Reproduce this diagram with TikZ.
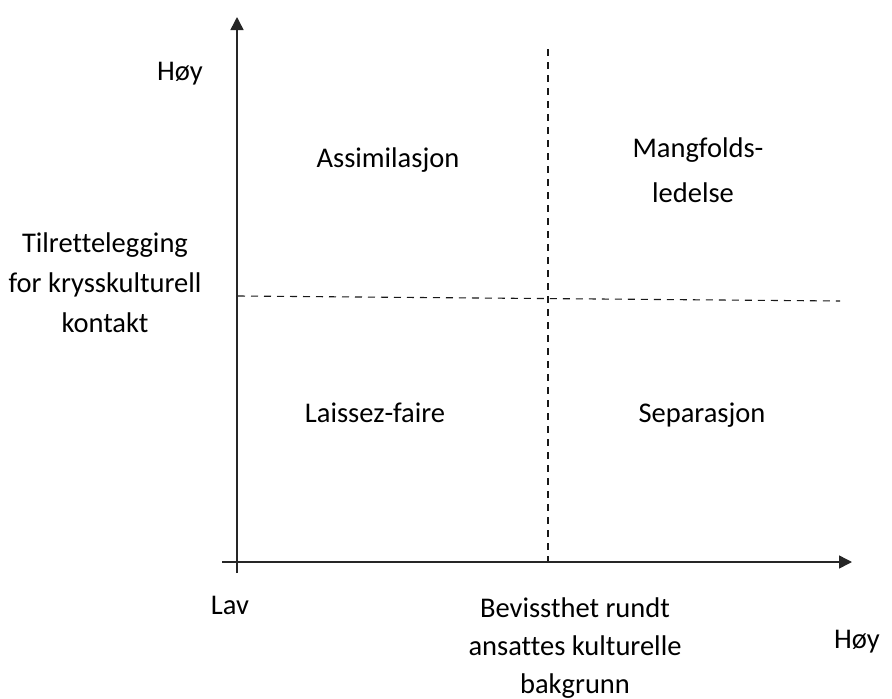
\documentclass[tikz,border=0pt]{standalone}
\usepackage{fontspec}
\setmainfont{Carlito}[Ligatures=NoCommon]
\usetikzlibrary{arrows.meta}
\begin{document}
\begin{tikzpicture}[x=1pt,y=-1pt,
  lbl/.style={font=\fontsize{28.5}{40}\selectfont, inner sep=0pt, anchor=base, text=black, align=center},
  axisline/.style={line width=1.5pt, black!85},
  dashline/.style={line width=1.1pt, black!90, dash pattern=on 7pt off 6pt},
  tip/.style={-{Triangle[length=13pt,width=13pt]}}]
\useasboundingbox (0,0) rectangle (892,699);
% axes coordinates
\coordinate (ystart) at (237,573);
\coordinate (yend) at (237,17);
\coordinate (xstart) at (222,562);
\coordinate (xend) at (852,562);
\coordinate (vtop) at (548,49);
\coordinate (vbot) at (548,562);
\coordinate (hleft) at (238,296);
\coordinate (hright) at (840,301);
\draw[dashline] (vtop) -- (vbot);
\draw[dashline] (hleft) -- (hright);
\draw[axisline, tip] (ystart) -- (yend);
\draw[axisline, tip] (xstart) -- (xend);
% labels (multi-line nodes: base = baseline of last line)
\node[lbl] (hoyy) at (180,80) {Høy};
\node[lbl] (assim) at (388,167) {Assimilasjon};
\node[lbl, font=\fontsize{28.5}{45}\selectfont] (mangf) at (698,202) {Mangfolds-\\ledelse\hspace*{10pt}};
\node[lbl] (tilr) at (105,332) {Tilrettelegging\\for krysskulturell\\kontakt};
\node[lbl] (laiss) at (375,422) {Laissez-faire};
\node[lbl] (separ) at (702,422) {Separasjon};
\node[lbl] (lav) at (230,614) {Lav};
\node[lbl, font=\fontsize{28.5}{38}\selectfont] (bevis) at (575,693) {Bevissthet rundt\\ansattes kulturelle\\bakgrunn};
\node[lbl] (hoyx) at (857,648) {Høy};
\end{tikzpicture}
\end{document}
